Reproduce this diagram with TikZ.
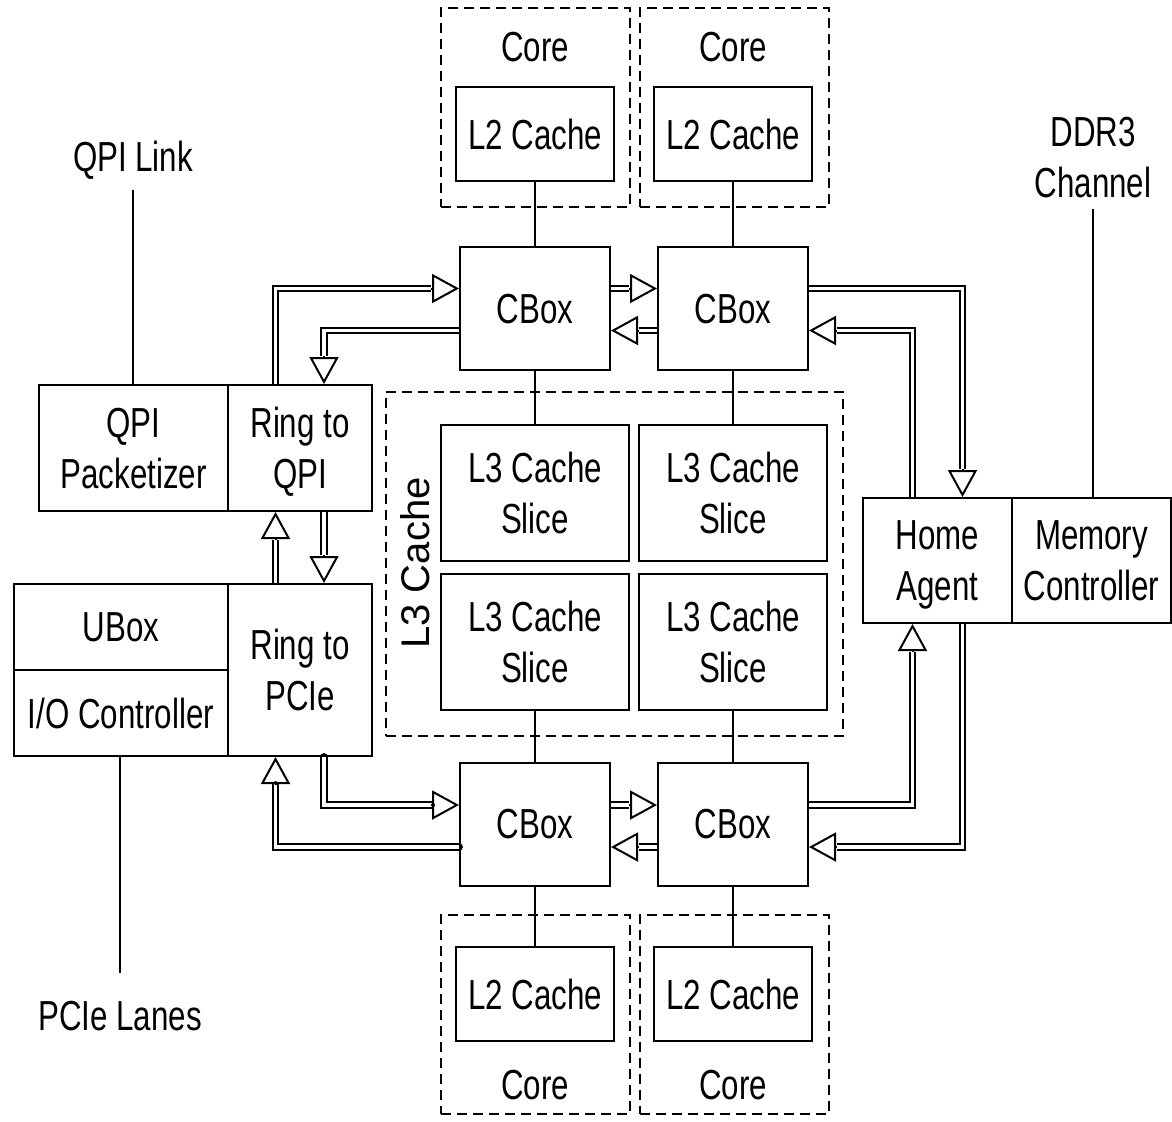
\documentclass[tikz,border=0pt]{standalone}
\usepackage{fontspec}
\setmainfont{Liberation Sans}[FakeStretch=0.745]
\newfontfamily\widefont{Liberation Sans}
\usetikzlibrary{arrows.meta,calc}
\pgfdeclarelayer{bg}
\pgfsetlayers{bg,main}
\newcommand\dblarrow[5][]{%
  \draw[dbl,#1] #2 #3 ($#4+#5$);
  \draw[tipx] ($#4+#5$) -- #4;}
\begin{document}
\begin{tikzpicture}[x=0.5pt,y=-0.5pt,
  every node/.style={font=\fontsize{21}{25.5}\selectfont, align=center},
  box/.style={draw, line width=1pt, inner sep=0pt, text depth=0pt},
  dbox/.style={draw, line width=1pt, dash pattern=on 5pt off 3pt, inner sep=0pt, minimum width=94.5pt, minimum height=99.5pt},
  l2/.style={box, minimum width=79pt, minimum height=47pt},
  cbox/.style={box, minimum width=75pt, minimum height=61.5pt},
  slice/.style={box, minimum width=94pt, minimum height=68pt},
  lbl/.style={inner sep=5pt},
  wire/.style={line width=0.8pt},
  dbl/.style={double, line width=1pt, double distance=1.9pt},
  tipx/.style={line width=1pt, -{Triangle[open, length=13.5pt, width=14.5pt]}},
]
\useasboundingbox (0,0) rectangle (1172,1121);

% top cores
\node[dbox] (coretl) at (535.5,107.5) {};
\node[dbox] (coretr) at (734.5,107.5) {};
\node (coretlt) at (535,47) {Core};
\node (coretrt) at (733,47) {Core};
\node[l2] (l2tl) at (535,134) {L2 Cache};
\node[l2] (l2tr) at (733,134) {L2 Cache};
\node[cbox] (cbtl) at (535,308.5) {CBox};
\node[cbox] (cbtr) at (733,308.5) {CBox};

% L3
\node[draw, line width=1pt, dash pattern=on 5pt off 3pt, inner sep=0pt,
      minimum width=228.5pt, minimum height=172pt] (l3) at (614.5,564) {};
\node[rotate=90, font=\widefont\fontsize{20}{24}\selectfont] (l3t) at (415,563) {L3 Cache};
\node[slice] (s1) at (535,493) {L3 Cache\\Slice};
\node[slice] (s2) at (733,493) {L3 Cache\\Slice};
\node[slice] (s3) at (535,642) {L3 Cache\\Slice};
\node[slice] (s4) at (733,642) {L3 Cache\\Slice};

% bottom
\node[cbox] (cbbl) at (535,824) {CBox};
\node[cbox] (cbbr) at (733,824) {CBox};
\node[dbox] (corebl) at (535.5,1014) {};
\node[dbox] (corebr) at (734.5,1014) {};
\node[l2] (l2bl) at (535,994) {L2 Cache};
\node[l2] (l2br) at (733,994) {L2 Cache};
\node (coreblt) at (535,1085) {Core};
\node (corebrt) at (733,1085) {Core};

% left blocks
\node[box, minimum width=94.5pt, minimum height=63pt] (qpip) at (133.5,448) {QPI\\Packetizer};
\node[box, minimum width=72pt, minimum height=63pt] (rqpi) at (300,448) {Ring to\\QPI};
\node[box, minimum width=107pt, minimum height=43pt] (ubox) at (121,627) {UBox};
\node[box, minimum width=107pt, minimum height=43pt] (ioc) at (121,713) {I/O Controller};
\node[box, minimum width=72pt, minimum height=86pt] (rpcie) at (300,670) {Ring to\\PCIe};

% right blocks
\node[box, minimum width=74.5pt, minimum height=62.5pt] (ha) at (937.5,560.5) {Home\\Agent};
\node[box, minimum width=79.5pt, minimum height=62.5pt] (mc) at (1091.5,560.5) {Memory\\Controller};

% external labels
\node[lbl] (qpil) at (133,160) {QPI Link};
\node[lbl] (ddr) at (1093,158) {DDR3\\Channel};
\node[lbl] (pcil) at (120,1016) {PCIe Lanes};

\draw[wire] (qpil.south) -- (qpil.south |- qpip.north);
\draw[wire] (ddr.south) -- (ddr.south |- mc.north);
\draw[wire] (pcil.north |- ioc.south) -- ([yshift=9pt]pcil.north);

% column wires
\draw[wire] (l2tl) -- (cbtl);
\draw[wire] (l2tr) -- (cbtr);
\draw[wire] (cbtl) -- (s1);
\draw[wire] (cbtr) -- (s2);
\draw[wire] (s3) -- (cbbl);
\draw[wire] (s4) -- (cbbr);
\draw[wire] (cbbl) -- (l2bl);
\draw[wire] (cbbr) -- (l2br);

% double arrows
\coordinate (xA) at (275.5,0);
\coordinate (xB) at (324,0);
\coordinate (xC) at (912.5,0);
\coordinate (xD) at (962.5,0);
\coordinate (yT1) at (0,288.5);
\coordinate (yT2) at (0,330.5);
\coordinate (yB1) at (0,805);
\coordinate (yB2) at (0,847);

\begin{pgfonlayer}{bg}
\dblarrow{(xA |- rqpi.north)}{|-}{(cbtl.west |- yT1)}{(-28,0)}
\dblarrow{(cbtl.west |- yT2)}{-|}{(xB |- rqpi.north)}{(0,-28)}
\dblarrow{(cbtl.east |- yT1)}{--}{(cbtr.west |- yT1)}{(-28,0)}
\dblarrow{(cbtr.west |- yT2)}{--}{(cbtl.east |- yT2)}{(28,0)}
\dblarrow{(cbtr.east |- yT1)}{-|}{(xD |- ha.north)}{(0,-28)}
\dblarrow{(xC |- ha.north)}{|-}{(cbtr.east |- yT2)}{(28,0)}
\dblarrow{(xA |- rpcie.north)}{--}{(xA |- rqpi.south)}{(0,28)}
\dblarrow{(xB |- rqpi.south)}{--}{(xB |- rpcie.north)}{(0,-28)}
\dblarrow[line cap=round]{(xB |- rpcie.south)}{|-}{(cbbl.west |- yB1)}{(-28,0)}
\dblarrow[line cap=round]{(cbbl.west |- yB2)}{-|}{(xA |- rpcie.south)}{(0,28)}
\dblarrow{(cbbl.east |- yB1)}{--}{(cbbr.west |- yB1)}{(-28,0)}
\dblarrow{(cbbr.west |- yB2)}{--}{(cbbl.east |- yB2)}{(28,0)}
\dblarrow{(cbbr.east |- yB1)}{-|}{(xC |- ha.south)}{(0,28)}
\dblarrow{(xD |- ha.south)}{|-}{(cbbr.east |- yB2)}{(28,0)}
\end{pgfonlayer}
\end{tikzpicture}
\end{document}
